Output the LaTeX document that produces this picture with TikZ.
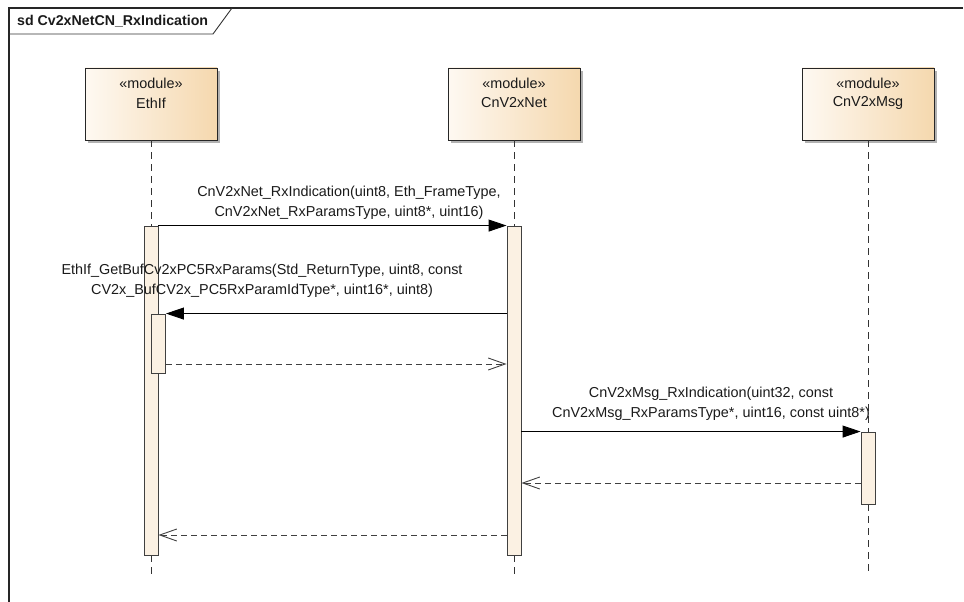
\documentclass[tikz,border=0pt]{standalone}
\usepackage{fontspec}
\setmainfont{Liberation Sans}
\usetikzlibrary{arrows.meta,shadows}
\definecolor{headL}{HTML}{FEF9F2}
\definecolor{headR}{HTML}{F5D8AE}
\definecolor{barfill}{HTML}{FBF1E3}
\definecolor{ink}{HTML}{1A1A1A}
\begin{document}
\begin{tikzpicture}[x=1pt,y=-1pt, font=\fontsize{14.4}{20}\selectfont,
  head/.style={draw=black!85, line width=0.9pt, minimum width=132pt, minimum height=72pt, inner sep=0pt,
    left color=headL, right color=headR,
    drop shadow={shadow xshift=3pt,shadow yshift=-3pt,fill=black!30,opacity=1}},
  bar/.style={draw=black!75, line width=0.9pt, fill=barfill, minimum width=14pt, inner sep=0pt},
  lifeline/.style={draw=black!80, line width=0.9pt, dash pattern=on 7pt off 5pt},
  call/.style={draw=black, line width=0.9pt, -{Triangle[length=18pt,width=12pt]}},
  ret/.style={draw=black!75, line width=0.9pt, dash pattern=on 6pt off 4pt, -{Straight Barb[length=17pt,width=12pt]}},
  lbl/.style={align=center, text=ink, inner sep=0pt}
]
\useasboundingbox (0,0) rectangle (964,602);
% frame
\draw[line width=1.3pt, black!85] (9,602) -- (9,8) -- (963,8);
\draw[line width=0.9pt, black!80] (9,34) -- (213,34) -- (232,8);
\node[anchor=west, inner sep=0pt, text=ink, font=\fontsize{14.2}{20}\selectfont\bfseries] (title) at (17,21) {sd Cv2xNetCN\_RxIndication};
% heads
\node[head] (hE) at (151,104) {};
\node[text=ink, inner sep=0pt] (hEs) at (151,83) {«module»};
\node[text=ink, inner sep=0pt] (hEn) at (151,103) {EthIf};
\node[head] (hN) at (514,104) {};
\node[text=ink, inner sep=0pt] (hNs) at (514,83) {«module»};
\node[text=ink, inner sep=0pt] (hNn) at (514,103) {CnV2xNet};
\node[head] (hM) at (868,104) {};
\node[text=ink, inner sep=0pt] (hMs) at (868,83) {«module»};
\node[text=ink, inner sep=0pt] (hMn) at (868,103) {CnV2xMsg};
% end coordinates
\coordinate (eE) at (151,575);
\coordinate (eN) at (514,575);
\coordinate (eM) at (868,575);
% activation bars
\node[bar, minimum height=329pt] (aE) at (151,390.5) {};
\node[bar, minimum height=59pt] (aE2) at (158.5,343.5) {};
\node[bar, minimum height=329pt] (aN) at (514,390.5) {};
\node[bar, minimum height=72pt] (aM) at (868,468) {};
% lifelines
\draw[lifeline] (hE.south) -- (aE.north);
\draw[lifeline] (aE.south) -- (eE);
\draw[lifeline] (hN.south) -- (aN.north);
\draw[lifeline] (aN.south) -- (eN);
\draw[lifeline] (hM.south) -- (aM.north);
\draw[lifeline] (aM.south) -- (eM);
% redraw bars on top
\node[bar, minimum height=329pt] at (aE) {};
\node[bar, minimum height=59pt] at (aE2) {};
\node[bar, minimum height=329pt] at (aN) {};
\node[bar, minimum height=72pt] at (aM) {};
% messages
\draw[call] (aE.north east) -- (aN.north west);
\node[lbl] (l1) at (349,203) {CnV2xNet\_RxIndication(uint8, Eth\_FrameType,\\CnV2xNet\_RxParamsType, uint8*, uint16)};
\draw[call] (aN.west |- aE2.north) -- (aE2.north east);
\node[lbl] (l2) at (262,281) {EthIf\_GetBufCv2xPC5RxParams(Std\_ReturnType, uint8, const\\CV2x\_BufCV2x\_PC5RxParamIdType*, uint16*, uint8)};
\coordinate (r1) at (0,364);
\draw[ret] (aE2.east |- r1) -- (aN.west |- r1);
\draw[call] (aN.east |- aM.north) -- (aM.north west);
\node[lbl] (l3) at (711,404) {CnV2xMsg\_RxIndication(uint32, const\\CnV2xMsg\_RxParamsType*, uint16, const uint8*)};
\coordinate (r2) at (0,483);
\draw[ret] (aM.west |- r2) -- (aN.east |- r2);
\coordinate (r3) at (0,535);
\draw[ret] (aN.west |- r3) -- (aE.east |- r3);
\end{tikzpicture}
\end{document}
